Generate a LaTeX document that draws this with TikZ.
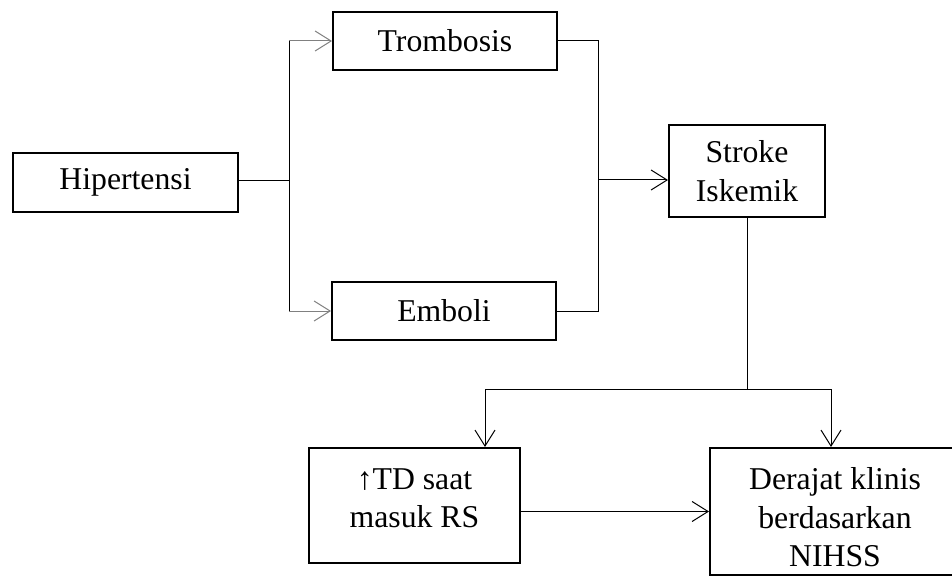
\documentclass[tikz,border=0pt]{standalone}
\usepackage{fontspec}
\setmainfont{Liberation Serif}
\usepackage{tikz}
\usetikzlibrary{arrows.meta}

\tikzset{
    block/.style={draw, line width=1.5pt, inner sep=0pt, align=center,
        font=\fontsize{23.8}{29}\selectfont},
    paleline/.style={draw=black!50},
}

\begin{document}
\begin{tikzpicture}[>={Straight Barb[length=12pt,width=15pt]}, line width=0.75pt, x=0.75pt, y=-0.75pt]

    \useasboundingbox (0,0) rectangle (952,577);
    \clip (0,0) rectangle (952,577);

    % Nodes

    \node[block, minimum width=168.75pt, minimum height=44.25pt] (hip) at (125.5,182.5) {Hipertensi}; %
    \node[block, minimum width=168pt, minimum height=43.5pt] (tromb) at (445,41) {Trombosis}; %
    \node[block, minimum width=168pt, minimum height=43.5pt] (emb) at (444,311) {Emboli}; %
    \node[block, minimum width=117pt, minimum height=69pt] (stroke) at (747,171) {Stroke\\Iskemik}; %

    % Bottom nodes
    \node[block, minimum width=158.25pt, minimum height=86.25pt] (td) at (414.5,505.5) {↑TD saat\\masuk RS\rule[-11pt]{0pt}{11pt}}; %
    \node[block, minimum width=187.5pt, minimum height=95.25pt] (der) at (835,511.5) {\rule{0pt}{25pt}Derajat klinis\\berdasarkan\\NIHSS}; %

    % Branch points
    \coordinate (split) at (289,181);
    \coordinate (merge) at (598,180);
    \coordinate (fork) at (747,389);
    \coordinate (forkL) at (485,389);
    \coordinate (forkR) at (831,389);

    \draw (hip.east |- split) -- (split);
    \draw (split |- tromb) -- (split |- emb);
    \draw[->, paleline] (split |- tromb) -- (tromb);
    \draw[->, paleline] (split |- emb) -- (emb);

    \draw (tromb.east) -| (merge |- emb.east) -- (emb.east);
    \draw[->] (merge) -- (merge -| stroke.west);

    \draw (stroke.south) -- (fork);
    \draw (forkL) -- (forkR);
    \draw[->] (forkL) -- (forkL |- td.north);
    \draw[->] (forkR) -- (forkR |- der.north);
    \draw[->] (td.east |- der) -- (der);

\end{tikzpicture}
\end{document}
